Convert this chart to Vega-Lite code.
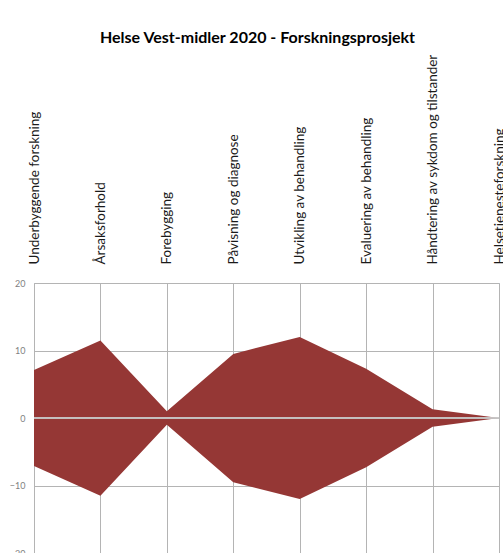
{
  "$schema": "https://vega.github.io/schema/vega-lite/v6.json",
  "autosize": "none",
  "width": 465,
  "height": 270,
  "padding": {"left": 34, "top": 283, "right": 4, "bottom": 0},
  "background": "white",
  "title": {
    "text": "Helse Vest-midler 2020 - Forskningsprosjekt",
    "font": "Lato",
    "fontSize": 16,
    "fontWeight": "bold",
    "color": "#000000",
    "anchor": "middle",
    "dx": -9,
    "offset": 8
  },
  "config": {
    "view": {"stroke": "#9dc3e6", "strokeWidth": 1},
    "axis": {"gridColor": "#b4b4b4", "gridWidth": 1}
  },
  "data": {
    "values": [
      {"kategori": "Underbyggende forskning", "verdi": 7.1, "motsatt": -7.1},
      {"kategori": "Årsaksforhold", "verdi": 11.5, "motsatt": -11.5},
      {"kategori": "Forebygging", "verdi": 1.0, "motsatt": -1.0},
      {"kategori": "Påvisning og diagnose", "verdi": 9.5, "motsatt": -9.5},
      {"kategori": "Utvikling av behandling", "verdi": 12.0, "motsatt": -12.0},
      {"kategori": "Evaluering av behandling", "verdi": 7.3, "motsatt": -7.3},
      {"kategori": "Håndtering av sykdom og tilstander", "verdi": 1.3, "motsatt": -1.3},
      {"kategori": "Helsetjenesteforskning", "verdi": 0, "motsatt": 0}
    ]
  },
  "layer": [
    {
      "mark": {"type": "area", "color": "#953735", "interpolate": "linear"},
      "encoding": {
        "x": {
          "field": "kategori",
          "type": "nominal",
          "sort": null,
          "scale": {"type": "point", "padding": 0},
          "axis": {
            "orient": "top",
            "title": null,
            "labelAngle": -90,
            "labelFont": "Lato",
            "labelFontSize": 13.5,
            "labelColor": "#1a1a1a",
            "labelLimit": 400,
            "labelPadding": 19,
            "ticks": false,
            "domain": false,
            "grid": true,
            "labelOverlap": false
          }
        },
        "y": {
          "field": "verdi",
          "type": "quantitative",
          "scale": {"domain": [-20, 20], "nice": false},
          "axis": {
            "title": null,
            "values": [-20, -10, 0, 10, 20],
            "labelFont": "Lato",
            "labelFontSize": 9,
            "labelColor": "#7f7f7f",
            "ticks": false,
            "labelPadding": 9,
            "domain": true,
            "domainColor": "#b4b4b4",
            "grid": true
          }
        },
        "y2": {"field": "motsatt"}
      }
    },
    {
      "mark": {"type": "rule", "color": "#c8c8c8", "opacity": 0.6, "strokeWidth": 1},
      "encoding": {"y": {"datum": 0}}
    }
  ]
}
